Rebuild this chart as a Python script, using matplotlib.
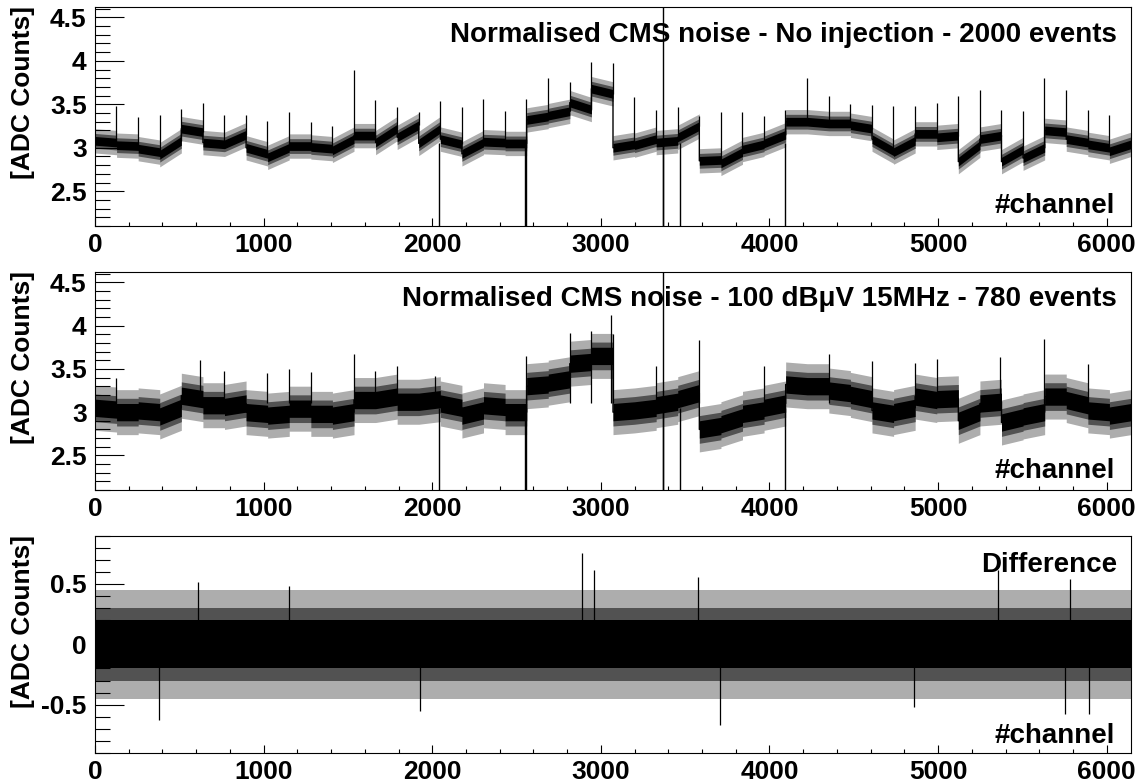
import numpy as np
import matplotlib
matplotlib.use("Agg")
import matplotlib.pyplot as plt
from matplotlib.ticker import MultipleLocator, FormatStrFormatter

plt.rcParams['font.family'] = ['Liberation Sans', 'DejaVu Sans']
plt.rcParams['font.weight'] = 'bold'
plt.rcParams['axes.unicode_minus'] = False

# ---------------- data ----------------
N_CHANNELS = 6144
CHIP = 128

# panel 1: normalised CMS noise, no injection (band centre at chip start / end)
noinj_start = [3.08, 3.03, 2.99, 2.92, 3.22, 3.06, 3.04, 3.00, 2.89, 3.02, 3.01, 2.97,
               3.14, 3.06, 3.12, 3.05, 3.10, 2.93, 3.07, 3.05, 3.32, 3.37, 3.52, 3.68,
               3.00, 3.03, 3.06, 3.12, 2.85, 2.82, 2.98, 3.05, 3.30, 3.30, 3.28, 3.26,
               3.10, 2.95, 3.16, 3.12, 2.84, 3.10, 2.84, 2.88, 3.20, 3.10, 3.04, 2.96]
noinj_end = [3.06, 3.02, 2.95, 3.08, 3.18, 3.04, 3.15, 2.93, 3.00, 3.02, 2.99, 3.10,
             3.14, 3.22, 3.26, 3.22, 3.04, 3.06, 3.06, 3.05, 3.36, 3.42, 3.44, 3.62,
             3.04, 3.10, 3.08, 3.25, 2.86, 2.95, 3.04, 3.15, 3.30, 3.28, 3.28, 3.22,
             2.96, 3.08, 3.16, 3.14, 3.03, 3.14, 2.98, 3.00, 3.18, 3.06, 3.00, 3.04]
# chip-edge channel (last channel of chip i, i = 1..47)
noinj_edge = [3.48, 3.35, 3.38, 3.45, 3.51, 3.38, 3.38, 3.31, 3.41, 3.30, 3.25, 3.90,
              3.55, 3.47, 3.41, 3.54, 3.47, 3.56, 3.42, 3.56, 3.80, 3.76, 3.99, 3.98,
              3.58, 3.44, 3.47, 3.37, 3.41, 3.41, 3.37, 3.44, 3.80, 3.60, 3.50, 3.49,
              3.48, 3.48, 3.51, 3.60, 3.67, 3.44, 3.42, 3.80, 3.67, 3.43, 3.38]

# panel 2: 100 dBuV 15 MHz injection
inj_start = [3.05, 3.00, 3.02, 2.95, 3.19, 3.08, 3.06, 3.00, 2.96, 3.04, 2.98, 2.96,
             3.14, 3.14, 3.12, 3.12, 3.10, 2.96, 3.08, 3.00, 3.30, 3.34, 3.56, 3.65,
             3.00, 3.02, 3.08, 3.15, 2.80, 2.86, 2.98, 3.05, 3.32, 3.30, 3.25, 3.20,
             3.02, 3.00, 3.18, 3.15, 2.90, 3.10, 2.88, 2.95, 3.18, 3.14, 3.02, 2.96]
inj_end = [3.03, 3.00, 3.00, 3.05, 3.15, 3.08, 3.10, 2.98, 2.98, 3.04, 2.98, 3.00,
           3.14, 3.18, 3.12, 3.15, 3.05, 3.02, 3.06, 3.00, 3.32, 3.38, 3.58, 3.65,
           3.02, 3.05, 3.12, 3.22, 2.84, 2.94, 3.02, 3.10, 3.30, 3.30, 3.22, 3.15,
           2.98, 3.05, 3.14, 3.16, 3.00, 3.12, 2.94, 3.00, 3.18, 3.08, 3.00, 3.00]
inj_spike_ch = [127, 623, 767, 1023, 1151, 1279, 1535, 1663, 1791, 2015, 2559,
                2815, 2943, 3061, 3071, 3327, 3583, 3967, 4351, 4607, 4863, 4991,
                5367, 5631, 5887]
inj_spike_val = [3.40, 3.60, 3.48, 3.45, 3.50, 3.46, 3.67, 3.48, 3.53, 3.42, 3.65,
                 3.92, 3.94, 4.12, 3.90, 3.53, 3.83, 3.53, 3.67, 3.59, 3.57, 3.62,
                 3.64, 3.84, 3.56]

# dead / hot channels (common to panels 1 and 2)
dead_ch = [2042, 2552, 2555, 3368, 3371, 3468, 4090]
hot_ch = [3370]

# panel 3: difference
diff_spike_ch = [380, 612, 1150, 1925, 2890, 2960, 3578, 3706, 4860, 5355, 5755, 5780, 5895]
diff_spike_val = [-0.63, 0.52, 0.48, -0.55, 0.76, 0.62, 0.56, -0.67, -0.52, 0.62,
                  -0.58, 0.54, -0.58]

# ---------------- figure ----------------
W, H = 1139, 783
fig = plt.figure(figsize=(W / 100, H / 100), dpi=100)


def fx(px):
    return px / W


def fy(py):
    return 1 - py / H


L, R = 95, 1131
panels = [(7, 226), (272, 490), (535.7, 753)]
axes = []
for top, bot in panels:
    ax = fig.add_axes([fx(L), fy(bot), fx(R) - fx(L), fy(top) - fy(bot)])
    axes.append(ax)

TXT = 19


def style(ax, ylim, major, minor):
    ax.set_xlim(0, N_CHANNELS)
    ax.set_ylim(*ylim)
    ax.xaxis.set_major_locator(MultipleLocator(1000))
    ax.xaxis.set_minor_locator(MultipleLocator(200))
    ax.yaxis.set_major_locator(MultipleLocator(major))
    ax.yaxis.set_minor_locator(MultipleLocator(minor))
    ax.yaxis.set_major_formatter(FormatStrFormatter('%g'))
    ax.tick_params(axis='both', which='both', direction='in', top=False, right=False,
                   width=0.8, labelsize=TXT)
    ax.tick_params(axis='y', which='major', length=21, pad=6)
    ax.tick_params(axis='y', which='minor', length=11)
    ax.tick_params(axis='x', which='major', length=6, pad=5)
    ax.tick_params(axis='x', which='minor', length=3)
    for s in ax.spines.values():
        s.set_linewidth(0.8)
        s.set_zorder(5)


def band(ax, starts, ends, core, mid, outer):
    edges = np.arange(len(starts)) * CHIP
    x = np.column_stack([edges, edges + CHIP]).ravel()
    c = np.column_stack([starts, ends]).ravel()
    ax.fill_between(x, c - outer, c + outer, color='0.68', lw=0)
    ax.fill_between(x, c - mid, c + mid, color='0.32', lw=0)
    ax.fill_between(x, c - core, c + core, color='k', lw=0)
    ax.plot(x, c, color='k', lw=1.0)
    return x, c


# panel 1
ax = axes[0]
style(ax, (2.1, 4.62), 0.5, 0.1)
band(ax, noinj_start, noinj_end, 0.05, 0.085, 0.14)
edge_ch = np.arange(1, 48) * CHIP - 1
ax.vlines(edge_ch, np.array(noinj_end[:47]), noinj_edge, color='k', lw=0.9)
ax.vlines(dead_ch, 0, 3.05, color='k', lw=1.0)
ax.vlines(hot_ch, 3.05, 5.0, color='k', lw=1.0)

# panel 2
ax = axes[1]
style(ax, (2.1, 4.62), 0.5, 0.1)
band(ax, inj_start, inj_end, 0.1, 0.16, 0.26)
ax.vlines(inj_spike_ch, 3.1, inj_spike_val, color='k', lw=0.9)
ax.vlines(dead_ch, 0, 3.05, color='k', lw=1.0)
ax.vlines(hot_ch, 3.05, 5.0, color='k', lw=1.0)

# panel 3
ax = axes[2]
style(ax, (-0.9, 0.9), 0.5, 0.1)
band(ax, [0.0] * 48, [0.0] * 48, 0.2, 0.3, 0.45)
ax.vlines(diff_spike_ch, 0, diff_spike_val, color='k', lw=0.9)

titles = ["Normalised CMS noise - No injection - 2000 events",
          "Normalised CMS noise - 100 dB\u03bcV 15MHz - 780 events",
          "Difference"]
title_base = [42, 305.7, 571.7]
chan_base = [213, 478, 743]
for ax, t, tb, cb, (top, bot) in zip(axes, titles, title_base, chan_base, panels):
    fig.text(fx(1117), fy(tb), t, ha='right', va='baseline', fontsize=20,
             fontweight='bold')
    fig.text(fx(1115), fy(cb), "#channel", ha='right', va='baseline', fontsize=20,
             fontweight='bold')
    fig.text(fx(23), fy(top - 1), "[ADC Counts]", rotation=90, ha='center', va='top',
             fontsize=TXT, fontweight='bold')

fig.savefig("out.png", dpi=100)
